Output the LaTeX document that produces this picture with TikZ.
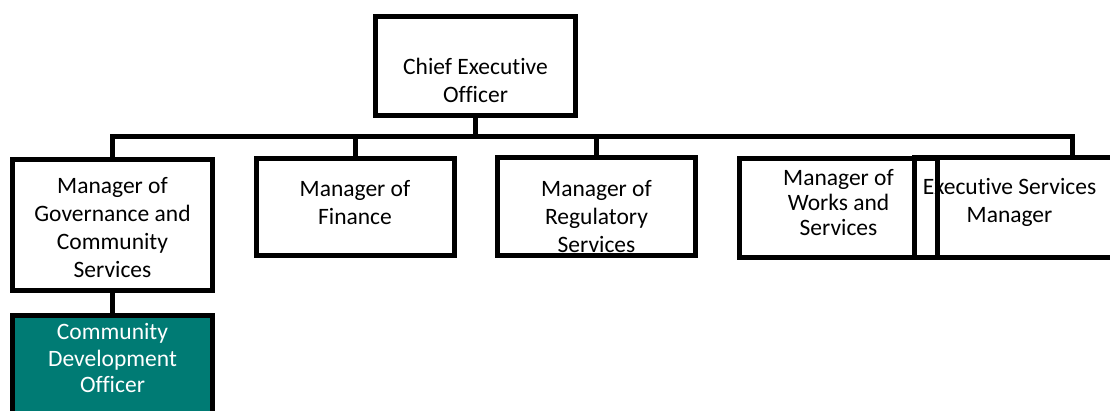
\documentclass[tikz,border=0pt]{standalone}
\usepackage{fontspec}
\setmainfont[RawFeature={-liga;-clig;-dlig;-calt}]{Carlito}
\usetikzlibrary{positioning}
\definecolor{cdoteal}{RGB}{0,123,116}

\tikzset{
  post/.style={draw, line width=5pt, minimum width=198pt, minimum height=99pt, inner sep=0pt},
  wire/.style={line width=5pt},
  every label/.style={align=center, inner sep=0pt}
}

\begin{document}
\begin{tikzpicture}[x=1pt, y=-1pt, font=\fontsize{23.5}{28}\selectfont]
  \path[use as bounding box, clip] (0,0) rectangle (1110,410);

  \node[post, minimum width=200pt, label={[name=ceo-t, yshift=-14pt]center:Chief Executive\\Officer}] (ceo) at (475.5,66) {};
  \coordinate (bus) at (475.5,136.5);

  \node[post, minimum width=200pt, minimum height=131pt, label={[name=gov-t, yshift=-3pt]center:Manager of\\Governance and\\Community\\Services}] (gov) at (112.5,225) {};
  \node[post, minimum height=97pt, label={[name=fin-t, yshift=4pt]center:Manager of\\Finance}] (fin) at (355,207) {};
  \node[post, minimum height=98pt, label={[name=reg-t, yshift=-10pt]center:Manager of\\Regulatory\\Services}] (reg) at (596.5,206.5) {};
  \node[post, minimum width=315pt, minimum height=100pt, label={[name=exec-t, xshift=-62.5pt, yshift=5pt]center:Executive Services\\Manager}] (exec) at (1072,207.5) {};
  \node[post, label={[name=works-t, yshift=5pt, font=\fontsize{23.5}{25}\selectfont]center:Manager of\\Works and\\Services}] (works) at (838.5,208) {};
  \node[post, minimum width=200pt, minimum height=100pt, fill=cdoteal, below=20pt of gov, label={[name=cdo-t, text=white, yshift=7.5pt, font=\fontsize{23.5}{26.5}\selectfont]center:Community\\Development\\Officer}] (cdo) {};

  \draw[wire] (ceo) -- (bus);
  \foreach \n in {gov,fin,reg,exec}
    \draw[wire] (bus) -| (\n.north);
  \draw[wire] (gov) -- (cdo);
\end{tikzpicture}
\end{document}
